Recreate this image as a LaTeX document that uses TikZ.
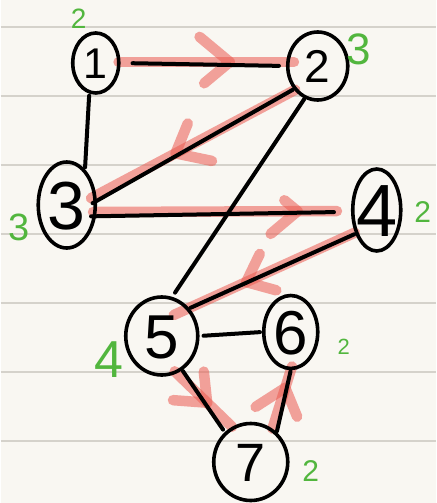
\documentclass[tikz,border=0pt]{standalone}
\usepackage{fontspec}
\setmainfont{Liberation Sans}
\usetikzlibrary{shapes.geometric,decorations.markings,calc}
\definecolor{paper}{RGB}{249,247,242}
\definecolor{ruling}{RGB}{213,210,203}
\definecolor{hl}{RGB}{235,90,80}
\definecolor{deg}{RGB}{82,182,62}
\pgfdeclarelayer{paperlayer}
\pgfdeclarelayer{edgelayer}
\pgfsetlayers{paperlayer,edgelayer,main}
\newcommand{\fsz}[1]{\fontsize{#1}{#1}\selectfont}
\newcommand{\dg}[2]{\fsz{#1}\makebox[0pt]{\smash{\raisebox{-0.358em}{#2}}}}
\tikzset{
  vert/.style={draw=black, line width=3.6pt, ellipse, inner sep=0pt},
  edge/.style={draw=black, line width=4pt, line cap=round},
  hlpath/.style={draw=hl, line width=10.5pt, line cap=round, opacity=0.55},
  chev/.style={postaction={decorate}, decoration={markings,
      mark=at position #1 with {\draw[hl, opacity=0.55, line width=10.5pt, line cap=round, line join=round] (-24,20) -- (0,0) -- (-24,-20);}}},
  deglabel/.style={text=deg, inner sep=0pt},
}
\begin{document}
\begin{tikzpicture}[x=1pt,y=-1pt]
\begin{pgfonlayer}{paperlayer}
\fill[paper] (0,0) rectangle (435,503);
\foreach \yy in {27,96,165,234,303,372,441}
  \draw[ruling, line width=1.5pt] (0,\yy) -- (435,\yy);
\end{pgfonlayer}
\useasboundingbox (0,0) rectangle (435,503);

% vertices
\node[vert, minimum width=46, minimum height=60] (n1) at (95,63) {\dg{43}{1}};
\node[vert, minimum width=60, minimum height=68] (n2) at (317,66) {\dg{46}{2}};
\node[vert, minimum width=57, minimum height=86] (n3) at (66,205) {\dg{68}{3}};
\node[vert, minimum width=48, minimum height=82] (n4) at (376,210) {\dg{74}{4}};
\node[vert, minimum width=72, minimum height=78] (n5) at (161,336) {\dg{62}{5}};
\node[vert, minimum width=54, minimum height=73] (n6) at (290,332) {\dg{62}{6}};
\node[vert, minimum width=74, minimum height=77] (n7) at (250,462) {\dg{54}{7}};

% degree labels
\node[deglabel] (d1) at (78,19) {\fsz{28}2};
\node[deglabel] (d2) at (358,49) {\fsz{44}3};
\node[deglabel] (d3) at (18,227) {\fsz{38}3};
\node[deglabel] (d4) at (422,212) {\fsz{30}2};
\node[deglabel] (d5) at (108,360) {\fsz{52}4};
\node[deglabel] (d6) at (343,347) {\fsz{22}2};
\node[deglabel] (d7) at (310,471) {\fsz{30}2};

\begin{pgfonlayer}{edgelayer}
% highlighted path 1-2-3-4-5-7-6
\draw[hlpath, chev=0.66, shorten <=-2pt, shorten >=-8pt] ($(n1.east)+(0,-1)$) -- ($(n2.west)+(0,-4)$);
\draw[hlpath, chev=0.6, shorten <=-1pt, shorten >=-6pt] (n2.226) -- (n3.18);
\draw[hlpath, chev=0.79, shorten <=-4pt, shorten >=14pt] ($(n3.east)+(0,7)$) -- ($(n4.west)+(0,1)$);
\draw[hlpath, chev=0.6] (n4.226) -- ($(n5.center)+(12,-21)$);
\draw[hlpath, chev=0.55, shorten <=-3pt] (n5.292) -- (n7.118);
\draw[hlpath, chev=0.7, shorten >=-4pt] (n7.57) -- (n6.270);

% black edges
\draw[edge, shorten <=12pt, shorten >=7pt] (n1.east) -- (n2.west);
\draw[edge, shorten <=2pt, shorten >=2pt] (n1.258) -- (n3.63);
\draw[edge, shorten <=1pt, shorten >=-5pt] (n2.224) -- (n3.8);
\draw[edge, shorten <=1pt, shorten >=5pt] (n2.248) -- (n5.75);
\draw[edge, shorten <=-5pt, shorten >=17pt] (n3.339) -- (n4.184);
\draw[edge, shorten <=1pt, shorten >=1pt] (n4.228) -- (n5.45);
\draw[edge, shorten <=4pt, shorten >=2pt] (n5.east) -- (n6.west);
\draw[edge, shorten <=1pt, shorten >=3pt] (n5.301) -- (n7.131);
\draw[edge, shorten <=1pt, shorten >=1pt] (n6.270) -- (n7.49);
\end{pgfonlayer}
\end{tikzpicture}
\end{document}
